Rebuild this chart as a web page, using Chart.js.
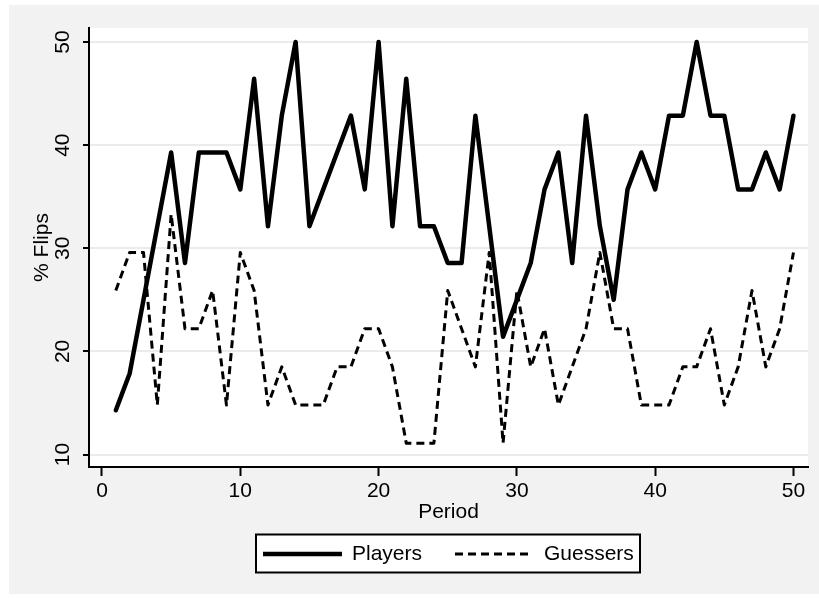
<!DOCTYPE html>
<html>
<head>
<meta charset="utf-8">
<script src="https://cdn.jsdelivr.net/npm/chart.js@4"></script>
<style>
  html, body { margin: 0; padding: 0; background: #fff; }
  #wrap { width: 819px; height: 599px; }
</style>
</head>
<body>
<div id="wrap"><canvas id="flipsChart" width="819" height="599"></canvas></div>
<script>
const periods = [1, 2, 3, 4, 5, 6, 7, 8, 9, 10, 11, 12, 13, 14, 15, 16, 17, 18, 19, 20,
  21, 22, 23, 24, 25, 26, 27, 28, 29, 30, 31, 32, 33, 34, 35, 36, 37, 38, 39, 40,
  41, 42, 43, 44, 45, 46, 47, 48, 49, 50];

const players = [14.29, 17.86, 25, 32.14, 39.29, 28.57, 39.29, 39.29, 39.29, 35.71,
  46.43, 32.14, 42.86, 50, 32.14, 35.71, 39.29, 42.86, 35.71, 50,
  32.14, 46.43, 32.14, 32.14, 28.57, 28.57, 42.86, 32.14, 21.43, 25,
  28.57, 35.71, 39.29, 28.57, 42.86, 32.14, 25, 35.71, 39.29, 35.71,
  42.86, 42.86, 50, 42.86, 42.86, 35.71, 35.71, 39.29, 35.71, 42.86];

const guessers = [25.9, 29.6, 29.6, 14.8, 33.3, 22.2, 22.2, 25.9, 14.8, 29.6,
  25.9, 14.8, 18.5, 14.8, 14.8, 14.8, 18.5, 18.5, 22.2, 22.2,
  18.5, 11.1, 11.1, 11.1, 25.9, 22.2, 18.5, 29.6, 11.1, 25.9,
  18.5, 22.2, 14.8, 18.5, 22.2, 29.6, 22.2, 22.2, 14.8, 14.8,
  14.8, 18.5, 18.5, 22.2, 14.8, 18.5, 25.9, 18.5, 22.2, 29.6];

const xTicks = [0, 10, 20, 30, 40, 50];
const yTicks = [10, 20, 30, 40, 50];

const fontFamily = "'Liberation Sans', Arial, sans-serif";
const fontSize = 21;

// grey backdrop with white plot region
const backdrop = {
  id: "backdrop",
  beforeDraw(chart) {
    const { ctx, chartArea: a } = chart;
    ctx.save();
    ctx.fillStyle = "#ffffff";
    ctx.fillRect(0, 0, chart.width, chart.height);
    ctx.fillStyle = "#f2f2f2";
    ctx.fillRect(9, 5, chart.width - 9, 589);
    ctx.fillStyle = "#ffffff";
    ctx.fillRect(a.left, a.top, a.right - a.left, a.bottom - a.top);
    ctx.restore();
  }
};

// rotated y tick labels
const yLabels = {
  id: "yLabels",
  afterDraw(chart) {
    const { ctx } = chart;
    const scale = chart.scales.y;
    ctx.save();
    ctx.fillStyle = "#000";
    ctx.font = fontSize + "px " + fontFamily;
    ctx.textAlign = "center";
    ctx.textBaseline = "middle";
    yTicks.forEach(v => {
      ctx.save();
      ctx.translate(63, scale.getPixelForValue(v));
      ctx.rotate(-Math.PI / 2);
      ctx.fillText(String(v), 0, 0);
      ctx.restore();
    });
    ctx.restore();
  }
};

// boxed legend under the axis title
const boxLegend = {
  id: "boxLegend",
  afterDraw(chart) {
    const { ctx } = chart;
    const ds = chart.data.datasets;
    const y = 554;
    ctx.save();
    ctx.fillStyle = "#fff";
    ctx.fillRect(256, 534, 384, 39);
    ctx.lineWidth = 2;
    ctx.strokeStyle = "#000";
    ctx.strokeRect(256, 534.5, 384, 38);

    const items = [
      { d: ds[0], x0: 263, x1: 342, tx: 352 },
      { d: ds[1], x0: 455, x1: 531, tx: 544 }
    ];
    items.forEach(it => {
      ctx.beginPath();
      ctx.setLineDash(it.d.borderDash || []);
      ctx.lineWidth = it.d.borderWidth;
      ctx.strokeStyle = it.d.borderColor;
      ctx.moveTo(it.x0, y);
      ctx.lineTo(it.x1, y);
      ctx.stroke();
      ctx.setLineDash([]);
      ctx.fillStyle = "#000";
      ctx.font = fontSize + "px " + fontFamily;
      ctx.textAlign = "left";
      ctx.textBaseline = "middle";
      ctx.fillText(it.d.label, it.tx, y);
    });
    ctx.restore();
  }
};

function drawChart() {
  const ctx = document.getElementById("flipsChart").getContext("2d");

  new Chart(ctx, {
    type: "line",
    data: {
      datasets: [
        {
          label: "Players",
          data: periods.map((p, i) => ({ x: p, y: players[i] })),
          borderColor: "#000",
          borderWidth: 4.5,
          borderJoinStyle: "round",
          borderCapStyle: "round",
          pointRadius: 0,
          tension: 0,
          fill: false
        },
        {
          label: "Guessers",
          data: periods.map((p, i) => ({ x: p, y: guessers[i] })),
          borderColor: "#000",
          borderWidth: 3,
          borderDash: [8, 5],
          borderJoinStyle: "round",
          pointRadius: 0,
          tension: 0,
          fill: false
        }
      ]
    },
    options: {
      responsive: false,
      animation: false,
      layout: {
        padding: { left: 9, top: 28, right: 11, bottom: 72 }
      },
      plugins: {
        legend: { display: false },
        tooltip: { enabled: false }
      },
      scales: {
        x: {
          type: "linear",
          min: -0.94,
          max: 51.05,
          afterBuildTicks: s => { s.ticks = xTicks.map(v => ({ value: v })); },
          afterFit: s => { s.height = 60; },
          grid: {
            drawOnChartArea: false,
            drawTicks: true,
            tickLength: 9,
            tickWidth: 2,
            tickColor: "#000"
          },
          border: { display: true, color: "#000", width: 2 },
          ticks: {
            color: "#000",
            font: { family: fontFamily, size: fontSize },
            padding: 3,
            maxRotation: 0,
            autoSkip: false
          },
          title: {
            display: true,
            text: "Period",
            color: "#000",
            font: { family: fontFamily, size: fontSize },
            padding: { top: 0, bottom: 2 }
          }
        },
        y: {
          type: "linear",
          min: 8.79,
          max: 51.36,
          afterBuildTicks: s => { s.ticks = yTicks.map(v => ({ value: v })); },
          afterFit: s => { s.width = 80; },
          grid: {
            color: "#ebebeb",
            lineWidth: 2,
            drawTicks: true,
            tickLength: 6,
            tickWidth: 2,
            tickColor: "#000"
          },
          border: { display: true, color: "#000", width: 2 },
          ticks: { display: false },
          title: {
            display: true,
            text: "% Flips",
            color: "#000",
            font: { family: fontFamily, size: fontSize },
            padding: { top: 21, bottom: 0 }
          }
        }
      }
    },
    plugins: [backdrop, yLabels, boxLegend]
  });
}

document.addEventListener("DOMContentLoaded", drawChart);
</script>
</body>
</html>
